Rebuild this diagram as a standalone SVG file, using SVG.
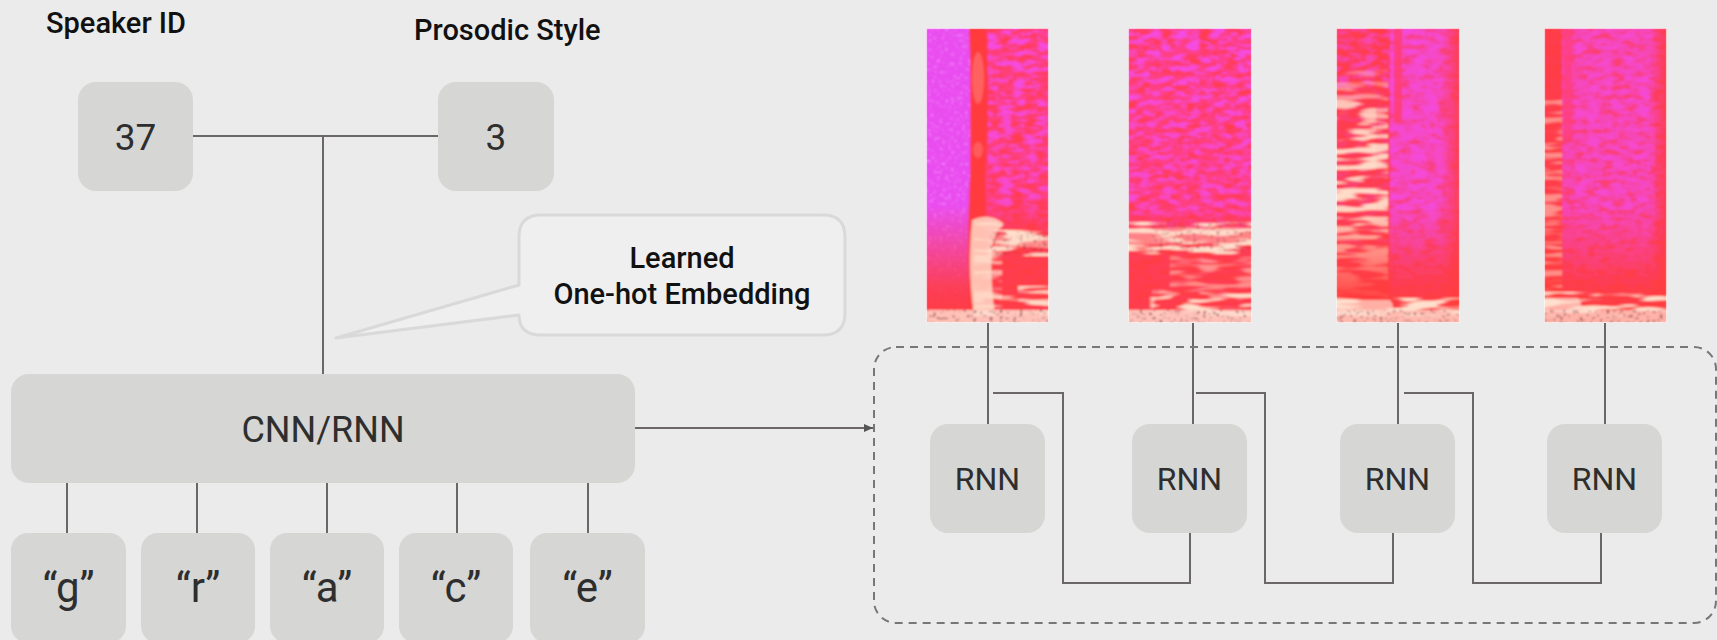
<svg xmlns="http://www.w3.org/2000/svg" width="1717" height="640" viewBox="0 0 1717 640">
  <defs>
    <style>
      .box{fill:#d6d6d4}
      .lbl{font-family:Roboto,"Liberation Sans",sans-serif;fill:#2e2e2e;text-anchor:middle}
      .head{font-family:Roboto,"Liberation Sans",sans-serif;font-weight:500;fill:#111;font-size:29px}
      .wire{stroke:#6b6767;stroke-width:2;fill:none}
      .dash{stroke:#777;stroke-width:2;fill:none;stroke-dasharray:8 6}
      .callout{fill:#efefef;stroke:#d9d9d9;stroke-width:3;stroke-linejoin:round}
      .note{font-family:Roboto,"Liberation Sans",sans-serif;font-weight:500;fill:#111;font-size:29px;text-anchor:middle}
    </style>
    <marker id="arrow" markerWidth="10" markerHeight="10" refX="9" refY="4" orient="auto" markerUnits="userSpaceOnUse">
      <path d="M0,0 L9,4 L0,8 Z" fill="#555"/>
    </marker>

    <!-- spectrogram textures -->
    <filter id="soft" x="0" y="0" width="1" height="1">
      <feGaussianBlur stdDeviation="0.8"/>
    </filter>
    <filter id="fxRed" x="0" y="0" width="1" height="1" color-interpolation-filters="sRGB">
      <feTurbulence type="fractalNoise" baseFrequency="0.08 0.2" numOctaves="3" seed="2" result="n"/>
      <feColorMatrix in="n" type="matrix" values="0 0 0 0 1  0 0 0 0 0.23  0 0 0 0 0.24  4 0 0 0 -1.7" result="c"/>
      <feComposite in="c" in2="SourceGraphic" operator="in"/>
    </filter>
    <filter id="fxMag" x="0" y="0" width="1" height="1" color-interpolation-filters="sRGB">
      <feTurbulence type="fractalNoise" baseFrequency="0.08 0.18" numOctaves="3" seed="11" result="n"/>
      <feColorMatrix in="n" type="matrix" values="0 0 0 0 0.96  0 0 0 0 0.3  0 0 0 0 0.9  4 0 0 0 -1.7" result="c"/>
      <feComposite in="c" in2="SourceGraphic" operator="in"/>
    </filter>
    <filter id="fxCream" x="0" y="0" width="1" height="1" color-interpolation-filters="sRGB">
      <feTurbulence type="fractalNoise" baseFrequency="0.025 0.17" numOctaves="2" seed="5" result="n"/>
      <feColorMatrix in="n" type="matrix" values="0 0 0 0 1  0 0 0 0 0.88  0 0 0 0 0.8  7 0 0 0 -3.3" result="c"/>
      <feComposite in="c" in2="SourceGraphic" operator="in"/>
    </filter>
    <filter id="fxDots" x="0" y="0" width="1" height="1" color-interpolation-filters="sRGB">
      <feTurbulence type="fractalNoise" baseFrequency="0.3 0.45" numOctaves="1" seed="8" result="n"/>
      <feColorMatrix in="n" type="matrix" values="0 0 0 0 0.5  0 0 0 0 0.14  0 0 0 0 0.18  10 0 0 0 -6.05" result="c"/>
      <feComposite in="c" in2="SourceGraphic" operator="in"/>
    </filter>
    <filter id="fxSpeck" x="0" y="0" width="1" height="1" color-interpolation-filters="sRGB">
      <feTurbulence type="fractalNoise" baseFrequency="0.35" numOctaves="1" seed="3" result="n"/>
      <feColorMatrix in="n" type="matrix" values="0 0 0 0 1  0 0 0 0 0.65  0 0 0 0 1  8 0 0 0 -4.8" result="c"/>
      <feComposite in="c" in2="SourceGraphic" operator="in"/>
    </filter>

    <linearGradient id="redDown" x1="0" y1="0" x2="0" y2="1">
      <stop offset="0.6" stop-color="#ff3c3c" stop-opacity="0"/>
      <stop offset="0.88" stop-color="#ff3c3c" stop-opacity="0.85"/>
      <stop offset="1" stop-color="#ff3c3c" stop-opacity="1"/>
    </linearGradient>
    <linearGradient id="redRight" x1="0" y1="0" x2="1" y2="0">
      <stop offset="0" stop-color="#ff3c3c" stop-opacity="0"/>
      <stop offset="1" stop-color="#ff3c3c" stop-opacity="0.85"/>
    </linearGradient>
    <linearGradient id="redLow" x1="0" y1="0" x2="0" y2="1">
      <stop offset="0" stop-color="#ff3c3c" stop-opacity="0"/>
      <stop offset="0.25" stop-color="#ff3c3c" stop-opacity="0.6"/>
      <stop offset="1" stop-color="#ff3c3c" stop-opacity="0.7"/>
    </linearGradient>
    <linearGradient id="fadeTop" x1="0" y1="0" x2="0" y2="1">
      <stop offset="0" stop-color="#fff" stop-opacity="1"/>
      <stop offset="0.6" stop-color="#fff" stop-opacity="0.8"/>
      <stop offset="0.72" stop-color="#fff" stop-opacity="0"/>
    </linearGradient>
    <linearGradient id="fadeIn" x1="0" y1="0" x2="0" y2="1">
      <stop offset="0" stop-color="#fff" stop-opacity="0.3"/>
      <stop offset="0.3" stop-color="#fff" stop-opacity="0.9"/>
      <stop offset="1" stop-color="#fff" stop-opacity="1"/>
    </linearGradient>

    <clipPath id="c1"><rect x="926" y="28" width="123" height="295"/></clipPath>
    <clipPath id="c2"><rect x="1128" y="28" width="124" height="295"/></clipPath>
    <clipPath id="c3"><rect x="1336" y="28" width="124" height="295"/></clipPath>
    <clipPath id="c4"><rect x="1544" y="28" width="123" height="295"/></clipPath>
  </defs>

  <rect width="1717" height="640" fill="#ebebeb"/>

  <!-- headings -->
  <text class="head" x="46" y="33">Speaker ID</text>
  <text class="head" x="414" y="40">Prosodic Style</text>

  <!-- connectors -->
  <g id="connectors">
    <path class="wire" d="M193 136 H438"/>
    <path class="wire" d="M323 136 V374"/>
    <path class="wire" d="M67 483 V533 M197 483 V533 M327 483 V533 M457 483 V533 M588 483 V533"/>
    <path class="wire" d="M635 428 H873" marker-end="url(#arrow)"/>
    <path class="wire" d="M988 323 V424 M1193 323 V424 M1398 323 V424 M1605 323 V424"/>
    <path class="wire" d="M993 393 H1063 V583 H1190 V533"/>
    <path class="wire" d="M1196 393 H1265 V583 H1393 V533"/>
    <path class="wire" d="M1404 393 H1473 V583 H1601 V533"/>
  </g>

  <!-- embedding inputs -->
  <g id="speaker-id">
    <rect class="box" x="78" y="82" width="115" height="109" rx="18"/>
    <text class="lbl" x="135.5" y="150" font-size="37">37</text>
  </g>
  <g id="prosodic-style">
    <rect class="box" x="438" y="82" width="116" height="109" rx="18"/>
    <text class="lbl" x="496" y="150" font-size="37">3</text>
  </g>

  <!-- callout -->
  <g id="embedding-note">
    <path class="callout" d="M541 215 H823 Q845 215 845 237 V313 Q845 335 823 335 H541 Q519 335 519 315 L336 338 L519 285 V237 Q519 215 541 215 Z"/>
    <text class="note" x="682" y="268">Learned</text>
    <text class="note" x="682" y="304">One-hot Embedding</text>
  </g>

  <!-- encoder -->
  <g id="cnn-rnn">
    <rect class="box" x="11" y="374" width="624" height="109" rx="18"/>
    <text class="lbl" x="323" y="442" font-size="36">CNN/RNN</text>
  </g>

  <!-- character inputs -->
  <g id="char-g">
    <rect class="box" x="11" y="533" width="115" height="110" rx="17"/>
    <text class="lbl" x="68.5" y="602" font-size="42">“g”</text>
  </g>
  <g id="char-r">
    <rect class="box" x="141" y="533" width="114" height="110" rx="17"/>
    <text class="lbl" x="198" y="602" font-size="42">“r”</text>
  </g>
  <g id="char-a">
    <rect class="box" x="270" y="533" width="114" height="110" rx="17"/>
    <text class="lbl" x="327" y="602" font-size="42">“a”</text>
  </g>
  <g id="char-c">
    <rect class="box" x="399" y="533" width="114" height="110" rx="17"/>
    <text class="lbl" x="456" y="602" font-size="42">“c”</text>
  </g>
  <g id="char-e">
    <rect class="box" x="530" y="533" width="115" height="110" rx="17"/>
    <text class="lbl" x="587.5" y="602" font-size="42">“e”</text>
  </g>

  <!-- decoder boundary -->
  <g id="decoder">
    <rect class="dash" x="874" y="347" width="842" height="276" rx="22"/>
  </g>

  <!-- decoder cells -->
  <g id="rnn-1">
    <rect class="box" x="930" y="424" width="115" height="109" rx="18"/>
    <text class="lbl" x="987.5" y="490" font-size="32">RNN</text>
  </g>
  <g id="rnn-2">
    <rect class="box" x="1132" y="424" width="115" height="109" rx="18"/>
    <text class="lbl" x="1189.5" y="490" font-size="32">RNN</text>
  </g>
  <g id="rnn-3">
    <rect class="box" x="1340" y="424" width="115" height="109" rx="18"/>
    <text class="lbl" x="1397.5" y="490" font-size="32">RNN</text>
  </g>
  <g id="rnn-4">
    <rect class="box" x="1547" y="424" width="115" height="109" rx="18"/>
    <text class="lbl" x="1604.5" y="490" font-size="32">RNN</text>
  </g>

  <!-- spectrogram frames -->
  <g id="spec-1" clip-path="url(#c1)">
    <g filter="url(#soft)">
      <rect x="926" y="28" width="123" height="295" fill="#ff3f78"/>
      <rect x="988" y="28" width="61" height="295" fill="#fff" opacity="0.7" filter="url(#fxRed)"/>
      <rect x="988" y="28" width="61" height="295" fill="url(#fadeTop)" filter="url(#fxMag)"/>
      <rect x="926" y="28" width="44" height="295" fill="#e94ef0"/>
      <rect x="926" y="28" width="44" height="295" fill="#fff" opacity="0.55" filter="url(#fxSpeck)"/>
      <rect x="926" y="28" width="44" height="295" fill="url(#redDown)"/>
      <path d="M969 28 Q973 120 969 200 Q967 260 970 323 H986 Q988 250 985 180 Q990 100 986 28 Z" fill="#ff3a3e"/>
      <ellipse cx="978" cy="78" rx="6" ry="26" fill="#ff7a78" opacity="0.6"/>
      <ellipse cx="978" cy="150" rx="5" ry="8" fill="#ff7a78" opacity="0.5"/>
      <rect x="988" y="200" width="61" height="123" fill="url(#redLow)"/>
      <path d="M972 220 Q990 212 1004 224 Q994 232 992 248 Q990 282 995 314 L974 316 Q967 270 972 220 Z" fill="#ffd8c6" opacity="0.85"/>
      <rect x="974" y="222" width="28" height="94" fill="#fff" opacity="0.7" filter="url(#fxCream)"/>
      <rect x="988" y="230" width="61" height="26" fill="#fff" filter="url(#fxCream)"/>
      <path d="M995 238 Q1020 232 1049 236 V248 Q1020 246 995 248 Z" fill="#ffd8c6" opacity="0.5"/>
      <rect x="1018" y="286" width="31" height="30" fill="#fff" opacity="0.9" filter="url(#fxCream)"/>
      <rect x="990" y="296" width="59" height="20" fill="#fff" opacity="0.7" filter="url(#fxCream)"/>
      <rect x="926" y="310" width="123" height="13" fill="#ffd9cc" opacity="0.85"/>
      <rect x="926" y="310" width="123" height="13" fill="#fff" filter="url(#fxDots)"/>
      <rect x="990" y="232" width="59" height="24" fill="#fff" opacity="0.6" filter="url(#fxDots)"/>
    </g>
    <rect x="926.5" y="28.5" width="122" height="294" fill="none" stroke="#fff" stroke-opacity="0.6"/>
  </g>

  <g id="spec-2" clip-path="url(#c2)">
    <g filter="url(#soft)">
      <rect x="1128" y="28" width="124" height="295" fill="#ff3f80"/>
      <rect x="1128" y="28" width="124" height="295" fill="#fff" opacity="0.75" filter="url(#fxRed)"/>
      <rect x="1128" y="28" width="124" height="295" fill="url(#fadeTop)" filter="url(#fxMag)"/>
      <rect x="1128" y="210" width="124" height="113" fill="url(#redLow)"/>
      <rect x="1128" y="222" width="124" height="32" fill="#fff" filter="url(#fxCream)"/>
      <path d="M1128 232 Q1180 224 1252 228 V244 Q1180 242 1128 246 Z" fill="#ffd8c6" opacity="0.45"/>
      <rect x="1170" y="256" width="82" height="34" fill="#fff" opacity="0.5" filter="url(#fxCream)"/>
      <rect x="1152" y="290" width="100" height="26" fill="#fff" filter="url(#fxCream)"/>
      <rect x="1150" y="294" width="102" height="20" fill="#fff" opacity="0.7" filter="url(#fxCream)"/>
      <rect x="1128" y="310" width="124" height="13" fill="#ffd9cc" opacity="0.85"/>
      <rect x="1128" y="310" width="124" height="13" fill="#fff" filter="url(#fxDots)"/>
      <rect x="1150" y="222" width="102" height="30" fill="#fff" opacity="0.5" filter="url(#fxDots)"/>
    </g>
    <rect x="1128.5" y="28.5" width="123" height="294" fill="none" stroke="#fff" stroke-opacity="0.6"/>
  </g>

  <g id="spec-3" clip-path="url(#c3)">
    <g filter="url(#soft)">
      <rect x="1336" y="28" width="124" height="295" fill="#f448c8"/>
      <rect x="1336" y="28" width="124" height="295" fill="#fff" opacity="0.55" filter="url(#fxRed)"/>
      <rect x="1390" y="28" width="70" height="220" fill="#fff" opacity="0.7" filter="url(#fxMag)"/>
      <rect x="1336" y="28" width="54" height="295" fill="#ff3c44" opacity="0.9"/>
      <rect x="1336" y="28" width="54" height="60" fill="#fff" opacity="0.6" filter="url(#fxMag)"/>
      <rect x="1336" y="60" width="54" height="263" fill="#fff" opacity="0.25" filter="url(#fxMag)"/>
      <rect x="1336" y="70" width="52" height="253" fill="url(#fadeIn)" filter="url(#fxCream)"/>
      <rect x="1336" y="100" width="40" height="200" fill="#fff" opacity="0.6" filter="url(#fxCream)"/>
      <rect x="1394" y="28" width="8" height="95" fill="#ff4070" opacity="0.85"/>
      <rect x="1440" y="28" width="20" height="295" fill="url(#redRight)"/>
      <rect x="1336" y="28" width="124" height="295" fill="url(#redDown)"/>
      <rect x="1336" y="298" width="124" height="18" fill="#fff" filter="url(#fxCream)"/>
      <path d="M1336 300 H1390 Q1396 307 1390 314 H1336 Z" fill="#ffe0d0" opacity="0.7"/>
      <rect x="1336" y="310" width="124" height="13" fill="#ffd9cc" opacity="0.8"/>
      <rect x="1336" y="310" width="124" height="13" fill="#fff" filter="url(#fxDots)"/>
    </g>
    <rect x="1336.5" y="28.5" width="123" height="294" fill="none" stroke="#fff" stroke-opacity="0.6"/>
  </g>

  <g id="spec-4" clip-path="url(#c4)">
    <g filter="url(#soft)">
      <rect x="1544" y="28" width="123" height="295" fill="#f646b8"/>
      <rect x="1544" y="28" width="123" height="295" fill="#fff" opacity="0.6" filter="url(#fxRed)"/>
      <rect x="1575" y="28" width="80" height="240" fill="#fff" opacity="0.65" filter="url(#fxMag)"/>
      <rect x="1544" y="28" width="18" height="295" fill="#ff3c3c" opacity="0.85"/>
      <rect x="1564" y="28" width="8" height="110" fill="#ff4080" opacity="0.8"/>
      <rect x="1650" y="28" width="17" height="295" fill="url(#redRight)"/>
      <rect x="1544" y="28" width="123" height="295" fill="url(#redDown)"/>
      <rect x="1544" y="100" width="18" height="190" fill="#fff" opacity="0.5" filter="url(#fxCream)"/>
      <rect x="1544" y="292" width="123" height="24" fill="#fff" filter="url(#fxCream)"/>
      <path d="M1544 298 H1578 Q1584 305 1578 312 H1544 Z" fill="#ffe0d0" opacity="0.7"/>
      <rect x="1544" y="310" width="123" height="13" fill="#ffd9cc" opacity="0.75"/>
      <rect x="1544" y="310" width="123" height="13" fill="#fff" filter="url(#fxDots)"/>
    </g>
    <rect x="1544.5" y="28.5" width="122" height="294" fill="none" stroke="#fff" stroke-opacity="0.6"/>
  </g>
</svg>
